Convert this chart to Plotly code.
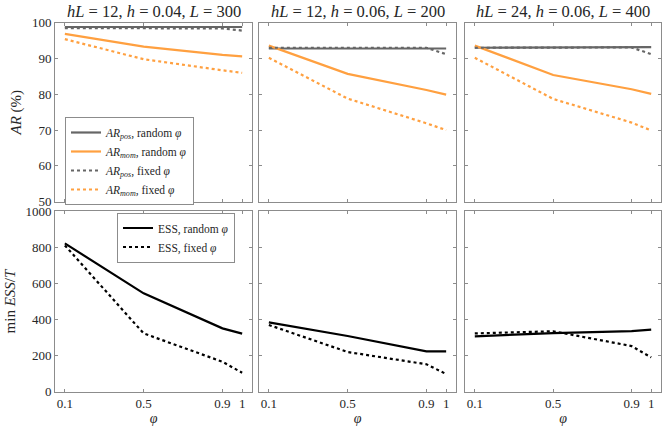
import plotly.graph_objects as go
from plotly.subplots import make_subplots

phi = [0.1, 0.5, 0.9, 1.0]

titles = [
    '<i>hL</i> = 12, <i>h</i> = 0.04, <i>L</i> = 300',
    '<i>hL</i> = 12, <i>h</i> = 0.06, <i>L</i> = 200',
    '<i>hL</i> = 24, <i>h</i> = 0.06, <i>L</i> = 400',
]

# acceptance rates (%) per panel
ar_pos_random = [[98.8, 98.8, 98.8, 98.8], [92.8, 92.8, 92.8, 92.8], [93.0, 93.0, 93.1, 93.2]]
ar_mom_random = [[96.9, 93.3, 91.0, 90.6], [93.6, 85.7, 81.2, 79.9], [93.6, 85.4, 81.4, 80.1]]
ar_pos_fixed = [[98.5, 98.5, 98.4, 97.8], [93.0, 93.0, 93.0, 91.2], [93.0, 93.0, 93.1, 91.2]]
ar_mom_fixed = [[95.4, 89.8, 86.7, 86.0], [90.2, 78.8, 71.9, 70.0], [90.2, 78.7, 72.1, 69.9]]

# min ESS / T per panel
ess_random = [[822, 545, 351, 322], [384, 309, 224, 224], [307, 325, 336, 344]]
ess_fixed = [[811, 323, 166, 105], [370, 220, 152, 98], [323, 335, 253, 190]]

GRAY = '#666666'
ORANGE = '#ffa040'
FONT = 'Liberation Serif'
TXT = '#262626'

fig = make_subplots(rows=2, cols=3)

for c in range(3):
    show = c == 0
    fig.add_trace(go.Scatter(x=phi, y=ar_pos_random[c], mode='lines', line=dict(color=GRAY, width=2.2),
                             name='<i>AR<sub>pos</sub></i>, random <i>φ</i>', legend='legend',
                             showlegend=show), row=1, col=c + 1)
    fig.add_trace(go.Scatter(x=phi, y=ar_mom_random[c], mode='lines', line=dict(color=ORANGE, width=2.2),
                             name='<i>AR<sub>mom</sub></i>, random <i>φ</i>', legend='legend',
                             showlegend=show), row=1, col=c + 1)
    fig.add_trace(go.Scatter(x=phi, y=ar_pos_fixed[c], mode='lines', line=dict(color=GRAY, width=2.2, dash='dot'),
                             name='<i>AR<sub>pos</sub></i>, fixed <i>φ</i>', legend='legend',
                             showlegend=show), row=1, col=c + 1)
    fig.add_trace(go.Scatter(x=phi, y=ar_mom_fixed[c], mode='lines', line=dict(color=ORANGE, width=2.2, dash='dot'),
                             name='<i>AR<sub>mom</sub></i>, fixed <i>φ</i>', legend='legend',
                             showlegend=show), row=1, col=c + 1)
    fig.add_trace(go.Scatter(x=phi, y=ess_random[c], mode='lines', line=dict(color='black', width=2.2),
                             name='ESS, random <i>φ</i>', legend='legend2',
                             showlegend=show), row=2, col=c + 1)
    fig.add_trace(go.Scatter(x=phi, y=ess_fixed[c], mode='lines', line=dict(color='black', width=2.2, dash='dot'),
                             name='ESS, fixed <i>φ</i>', legend='legend2',
                             showlegend=show), row=2, col=c + 1)

xdoms = [[55 / 664, 252 / 664], [259 / 664, 456 / 664], [465 / 664, 661 / 664]]
ydoms = [[1 - 201.7 / 433, 1 - 22.7 / 433], [1 - 391.7 / 433, 1 - 211.3 / 433]]

axis_style = dict(showline=True, linecolor='#8c8c8c', linewidth=1, mirror='ticks', ticks='inside',
                  ticklen=3, tickcolor='#8c8c8c', showgrid=False, zeroline=False, automargin=False,
                  tickfont=dict(family=FONT, size=13, color=TXT))

for r in range(2):
    for c in range(3):
        fig.update_xaxes(domain=xdoms[c], range=[0.05, 1.05], tickvals=phi,
                         ticktext=['0.1', '0.5', '0.9', '1'], showticklabels=(r == 1),
                         row=r + 1, col=c + 1, **axis_style)
        if r == 0:
            fig.update_yaxes(domain=ydoms[0], range=[50, 100], tickvals=[50, 60, 70, 80, 90, 100],
                             showticklabels=(c == 0), row=1, col=c + 1, **axis_style)
        else:
            fig.update_yaxes(domain=ydoms[1], range=[0, 1000], tickvals=[0, 200, 400, 600, 800, 1000],
                             showticklabels=(c == 0), row=2, col=c + 1, **axis_style)

for c in range(3):
    fig.update_xaxes(title=dict(text='<i>φ</i>', font=dict(family=FONT, size=14, color=TXT), standoff=2),
                     row=2, col=c + 1)
    fig.add_annotation(text=titles[c], xref='paper', yref='paper', x=sum(xdoms[c]) / 2, y=1 - 22.7 / 433,
                       xanchor='center', yanchor='bottom', yshift=0, showarrow=False,
                       font=dict(family=FONT, size=16.5, color=TXT))

fig.update_yaxes(title=dict(text='<i>AR</i> (%)', font=dict(family=FONT, size=15, color=TXT), standoff=6),
                 row=1, col=1)
fig.update_yaxes(title=dict(text='min <i>ESS</i>/<i>T</i>', font=dict(family=FONT, size=15, color=TXT),
                            standoff=6), row=2, col=1)

legend_style = dict(bgcolor='white', bordercolor='#8c8c8c', borderwidth=1,
                    font=dict(family=FONT, size=11.5, color=TXT), tracegroupgap=0,
                    xanchor='left', yanchor='middle', itemwidth=30)

fig.update_layout(
    width=664, height=433,
    margin=dict(l=0, r=0, t=0, b=0, autoexpand=False),
    plot_bgcolor='white', paper_bgcolor='white',
    legend=dict(x=65 / 664, y=1 - 161 / 433, **legend_style),
    legend2=dict(x=117 / 664, y=1 - 237.5 / 433, **legend_style),
)

fig.write_html('out.html', config={'displayModeBar': False},
               post_script="document.body.style.margin='0';")
